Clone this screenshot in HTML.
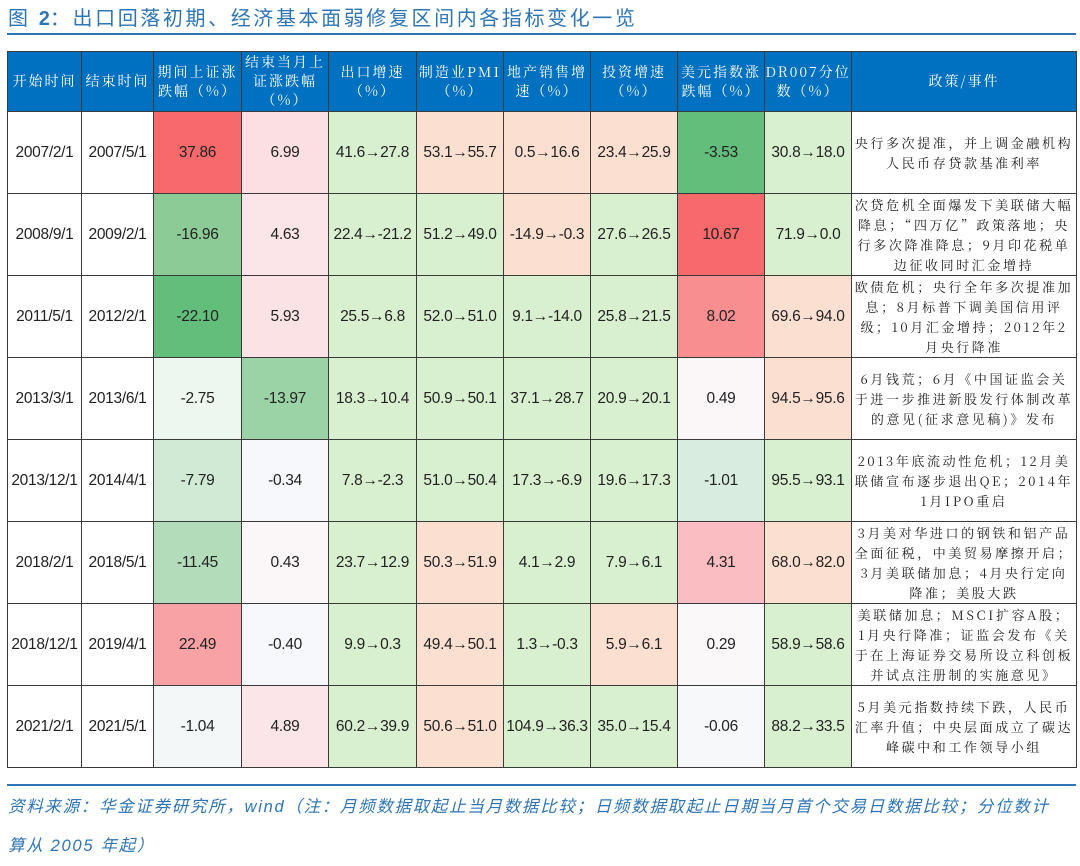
<!DOCTYPE html>
<html><head><meta charset="utf-8">
<style>
body{margin:0;width:1080px;height:858px;background:#fff;position:relative;overflow:hidden;font-family:"Liberation Sans","Noto Sans CJK SC",sans-serif;}
.title{position:absolute;left:8px;top:2px;font-size:20px;color:#2e75b6;letter-spacing:2.6px;white-space:nowrap;font-family:"Liberation Sans","Noto Sans CJK SC",sans-serif;}
.title b{font-weight:bold;letter-spacing:0}
.tline{position:absolute;left:7px;top:33px;width:1069px;height:2px;background:#2e75b6;}
table{position:absolute;left:7px;top:51px;border-collapse:collapse;table-layout:fixed;}
td,th{border:1px solid #3a3a3a;text-align:center;vertical-align:middle;padding:0;overflow:hidden;}
th{background:#0070c0;color:#fff;font-weight:normal;font-size:14px;letter-spacing:2px;line-height:19px;font-family:"Noto Serif CJK SC","Noto Sans CJK SC",sans-serif;height:59px;}
td{font-size:15.5px;color:#222;height:81px;white-space:nowrap;letter-spacing:-0.3px;}
td.p{white-space:normal;font-size:13px;letter-spacing:2.6px;line-height:20px;font-family:"Noto Serif CJK SC","Noto Sans CJK SC",sans-serif;padding:0 2px;}
.g{background:#d9f0d0}.o{background:#fbe0d2}
.bline{position:absolute;left:7px;top:784px;width:1069px;height:2px;background:#2e75b6;}
.src{position:absolute;left:8px;top:788px;width:1072px;font-size:16.5px;color:#2e75b6;font-style:italic;line-height:39px;letter-spacing:1.7px;white-space:nowrap;}
</style></head><body>
<div class="title">图 <b>2</b>：出口回落初期、经济基本面弱修复区间内各指标变化一览</div>
<div class="tline"></div>
<table>
<colgroup><col style="width:74px"><col style="width:72px"><col style="width:88px"><col style="width:87px"><col style="width:88px"><col style="width:87px"><col style="width:87px"><col style="width:87px"><col style="width:87px"><col style="width:87px"><col style="width:225px"></colgroup>
<tr>
<th>开始时间</th>
<th>结束时间</th>
<th>期间上证涨<br>跌幅（%）</th>
<th>结束当月上<br>证涨跌幅<br>（%）</th>
<th>出口增速<br>（%）</th>
<th>制造业PMI<br>（%）</th>
<th>地产销售增<br>速（%）</th>
<th>投资增速<br>（%）</th>
<th>美元指数涨<br>跌幅（%）</th>
<th>DR007分位<br>数（%）</th>
<th>政策/事件</th>
</tr>
<tr><td>2007/2/1</td><td>2007/5/1</td><td style="background:#f8696b">37.86</td><td style="background:#fbdfe2">6.99</td><td class="g">41.6→27.8</td><td class="o">53.1→55.7</td><td class="o">0.5→16.6</td><td class="o">23.4→25.9</td><td style="background:#63be7b">-3.53</td><td class="g">30.8→18.0</td><td class="p">央行多次提准，并上调金融机构人民币存贷款基准利率</td></tr>
<tr><td>2008/9/1</td><td>2009/2/1</td><td style="background:#8ccb95">-16.96</td><td style="background:#fbe5e8">4.63</td><td class="g">22.4→-21.2</td><td class="g">51.2→49.0</td><td class="o">-14.9→-0.3</td><td class="g">27.6→26.5</td><td style="background:#f8696b">10.67</td><td class="g">71.9→0.0</td><td class="p">次贷危机全面爆发下美联储大幅降息；“四万亿”政策落地；央行多次降准降息；9月印花税单边征收同时汇金增持</td></tr>
<tr><td>2011/5/1</td><td>2012/2/1</td><td style="background:#63be7b">-22.10</td><td style="background:#fbe2e5">5.93</td><td class="g">25.5→6.8</td><td class="g">52.0→51.0</td><td class="g">9.1→-14.0</td><td class="g">25.8→21.5</td><td style="background:#f98e91">8.02</td><td class="o">69.6→94.0</td><td class="p">欧债危机；央行全年多次提准加息；8月标普下调美国信用评级；10月汇金增持；2012年2月央行降准</td></tr>
<tr><td>2013/3/1</td><td>2013/6/1</td><td style="background:#edf6ef">-2.75</td><td style="background:#9bd3a6">-13.97</td><td class="g">18.3→10.4</td><td class="g">50.9→50.1</td><td class="g">37.1→28.7</td><td class="g">20.9→20.1</td><td style="background:#fbf6f8">0.49</td><td class="o">94.5→95.6</td><td class="p">6月钱荒；6月《中国证监会关于进一步推进新股发行体制改革的意见(征求意见稿)》发布</td></tr>
<tr><td>2013/12/1</td><td>2014/4/1</td><td style="background:#d0ead6">-7.79</td><td style="background:#f7f8fb">-0.34</td><td class="g">7.8→-2.3</td><td class="g">51.0→50.4</td><td class="g">17.3→-6.9</td><td class="g">19.6→17.3</td><td style="background:#d8ede0">-1.01</td><td class="g">95.5→93.1</td><td class="p">2013年底流动性危机；12月美联储宣布逐步退出QE；2014年1月IPO重启</td></tr>
<tr><td>2018/2/1</td><td>2018/5/1</td><td style="background:#b2dcba">-11.45</td><td style="background:#fbf6f8">0.43</td><td class="g">23.7→12.9</td><td class="o">50.3→51.9</td><td class="g">4.1→2.9</td><td class="g">7.9→6.1</td><td style="background:#fabdc1">4.31</td><td class="o">68.0→82.0</td><td class="p">3月美对华进口的钢铁和铝产品全面征税，中美贸易摩擦开启；3月美联储加息；4月央行定向降准；美股大跌</td></tr>
<tr><td>2018/12/1</td><td>2019/4/1</td><td style="background:#f9a2a6">22.49</td><td style="background:#f7f8fb">-0.40</td><td class="g">9.9→0.3</td><td class="o">49.4→50.1</td><td class="g">1.3→-0.3</td><td class="o">5.9→6.1</td><td style="background:#fbf8fa">0.29</td><td class="g">58.9→58.6</td><td class="p">美联储加息；MSCI扩容A股；1月央行降准；证监会发布《关于在上海证券交易所设立科创板并试点注册制的实施意见》</td></tr>
<tr><td>2021/2/1</td><td>2021/5/1</td><td style="background:#f4f7f7">-1.04</td><td style="background:#fbe5e8">4.89</td><td class="g">60.2→39.9</td><td class="o">50.6→51.0</td><td class="g">104.9→36.3</td><td class="g">35.0→15.4</td><td style="background:#f7f8fa">-0.06</td><td class="g">88.2→33.5</td><td class="p">5月美元指数持续下跌，人民币汇率升值；中央层面成立了碳达峰碳中和工作领导小组</td></tr>
</table>
<div class="bline"></div>
<div class="src">资料来源：华金证券研究所，wind（注：月频数据取起止当月数据比较；日频数据取起止日期当月首个交易日数据比较；分位数计<br>算从 2005 年起）</div>
</body></html>
